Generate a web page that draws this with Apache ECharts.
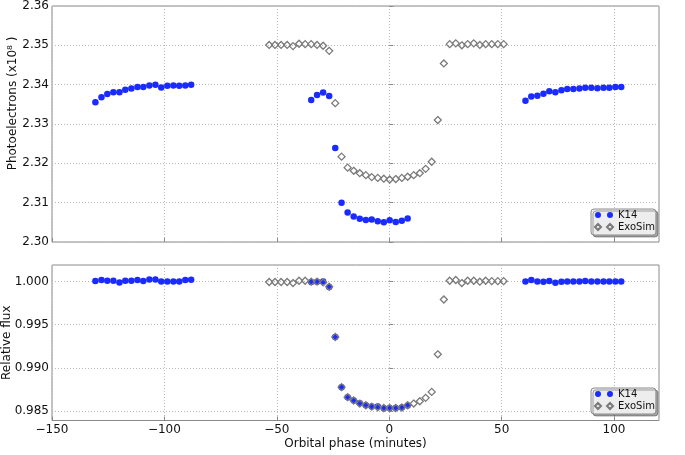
<!DOCTYPE html>
<html>
<head>
<meta charset="utf-8">
<script src="https://cdn.jsdelivr.net/npm/echarts@6.0.0/dist/echarts.min.js"></script>
<style>html,body{margin:0;padding:0;background:#fff;}#c{width:685px;height:455px;}</style>
</head>
<body>
<div id="c"></div>
<script>
// ---- data ----
const k14Phase = [-130.7, -128.0, -125.4, -122.7, -120.0, -117.4, -114.7, -112.0, -109.4, -106.7, -104.0, -101.4, -98.7, -96.0, -93.4, -90.7, -88.1,
  -34.7, -32.1, -29.4, -26.7, -24.0, -21.2, -18.5, -15.8, -13.1, -10.4, -7.8, -5.1, -2.4, 0.2, 2.9, 5.6, 8.2,
  60.6, 63.2, 65.9, 68.6, 71.2, 73.9, 76.6, 79.2, 81.9, 84.6, 87.2, 89.9, 92.6, 95.3, 97.9, 100.6, 103.2];
const k14Photo = [2.3355, 2.3368, 2.3376, 2.3381, 2.3381, 2.3387, 2.3390, 2.3394, 2.3394, 2.3398, 2.3400, 2.3393, 2.3397, 2.3398, 2.3397, 2.3398, 2.3400,
  2.3361, 2.3374, 2.3380, 2.3371, 2.3239, 2.3100, 2.3075, 2.3065, 2.3059, 2.3056, 2.3057, 2.3053, 2.3050, 2.3055, 2.3051, 2.3054, 2.3060,
  2.3359, 2.3370, 2.3372, 2.3377, 2.3383, 2.3381, 2.3386, 2.3389, 2.3389, 2.3390, 2.3392, 2.3392, 2.3391, 2.3392, 2.3392, 2.3394, 2.3394];
const k14Flux = [1.00005, 1.00016, 1.00008, 1.00008, 0.99988, 1.00008, 1.00008, 1.00016, 1.00005, 1.00023, 1.00023, 1.0, 1.0, 1.0, 1.0, 1.00016, 1.0002,
  0.99993, 0.99997, 1.0, 0.99935, 0.99357, 0.98776, 0.98660, 0.98621, 0.98590, 0.98567, 0.98551, 0.98551, 0.98531, 0.98535, 0.98535, 0.98540, 0.98563,
  1.0, 1.00016, 1.0, 0.99997, 1.00005, 0.99985, 0.99997, 1.0, 1.0, 1.0, 1.00005, 1.0, 1.0, 1.0, 1.0, 1.0, 1.0];

const exoPhase = [-53.4, -50.8, -48.1, -45.4, -42.8, -40.1, -37.4, -34.7, -32.1, -29.4, -26.7, -24.0, -21.2, -18.5, -15.8, -13.1, -10.4, -7.8, -5.1, -2.4,
  0.2, 2.9, 5.6, 8.2, 10.9, 13.6, 16.2, 18.9, 21.6, 24.3, 26.9, 29.6, 32.3, 34.9, 37.6, 40.3, 42.9, 45.6, 48.3, 50.9];
const exoPhoto = [2.3501, 2.3501, 2.3501, 2.3501, 2.3498, 2.3504, 2.3503, 2.3503, 2.3501, 2.3499, 2.3486, 2.3353, 2.3217, 2.3189, 2.3181, 2.3175, 2.3170, 2.3165, 2.3163, 2.3161,
  2.3159, 2.3160, 2.3163, 2.3166, 2.3170, 2.3175, 2.3186, 2.3204, 2.3310, 2.3454, 2.3503, 2.3505, 2.3500, 2.3503, 2.3505, 2.3501, 2.3503, 2.3503, 2.3503, 2.3503];
const exoFlux = [0.99993, 0.99993, 0.99993, 0.99993, 0.99981, 1.00008, 1.00008, 0.99997, 0.99997, 0.99988, 0.99938, 0.99357, 0.98776, 0.98660, 0.98621, 0.98586, 0.98567, 0.98551, 0.98543, 0.98535,
  0.98535, 0.98535, 0.98540, 0.98567, 0.98586, 0.98613, 0.98652, 0.98721, 0.99156, 0.99791, 1.00008, 1.00016, 0.99981, 1.00008, 1.00008, 0.99997, 1.00008, 1.00003, 1.00003, 1.00003];

const xTicks = [-150, -100, -50, 0, 50, 100];
const yTicksPhoto = [2.30, 2.31, 2.32, 2.33, 2.34, 2.35, 2.36];
const yTicksFlux = [0.985, 0.990, 0.995, 1.000];
const seriesNames = ['K14', 'ExoSim'];
const xTitle = 'Orbital phase (minutes)';
const yTitleTop = 'Photoelectrons (x10\u2078 )';
const yTitleBottom = 'Relative flux';

// ---- chart ----
const zip = (a, b) => a.map((v, i) => [v, b[i]]);
const FONT = 'DejaVu Sans';
const frame = '#8a8a8a';
const gridLine = { show: true, lineStyle: { type: [1, 2], color: '#b8b8b8', width: 1 } };
const blue = '#1a2bff';
const dotsIcon = 'path://M0,3a3,3 0 1,0 6,0a3,3 0 1,0 -6,0ZM12,3a3,3 0 1,0 6,0a3,3 0 1,0 -6,0Z';
const diaIcon = 'path://M3,0L6,3L3,6L0,3ZM15,0L18,3L15,6L12,3Z';
const fmtMinus = v => (v < 0 ? '\u2212' + Math.abs(v) : String(v));

function legendAt(top) {
  return {
    orient: 'vertical', left: 591, top: top,
    data: [{ name: seriesNames[0], icon: dotsIcon }, { name: seriesNames[1], icon: diaIcon }],
    itemWidth: 18, itemHeight: 6, itemGap: 2,
    padding: [1, 1, 3, 3],
    backgroundColor: '#ededed', borderColor: '#8c8c8c', borderWidth: 1, borderRadius: 3,
    shadowColor: 'rgba(0,0,0,0.35)', shadowOffsetX: 2, shadowOffsetY: 2, shadowBlur: 0,
    textStyle: { fontFamily: FONT, fontSize: 10, color: '#111' },
    selectedMode: false
  };
}

const yName = (text, gap, pad) => ({
  name: text, nameLocation: 'middle', nameRotate: 90, nameGap: gap, nameMoveOverlap: false,
  nameTextStyle: { fontFamily: FONT, fontSize: 12, color: '#111', padding: pad }
});

const chart = echarts.init(document.getElementById('c'), null, { renderer: 'canvas' });
chart.setOption({
  animation: false,
  backgroundColor: '#fff',
  grid: [
    { left: 52, top: 6, width: 607, height: 236, show: true, borderColor: frame, borderWidth: 1, backgroundColor: 'transparent', containLabel: false, outerBoundsMode: 'none' },
    { left: 52, top: 265, width: 607, height: 155.5, show: true, borderColor: frame, borderWidth: 1, backgroundColor: 'transparent', containLabel: false, outerBoundsMode: 'none' }
  ],
  legend: [legendAt(209), legendAt(388)],
  xAxis: [
    { type: 'value', gridIndex: 0, min: -150, max: 120,
      axisLine: { show: false },
      axisTick: { show: true, inside: true, length: 4, lineStyle: { color: frame }, customValues: xTicks },
      axisLabel: { show: false, customValues: xTicks },
      splitLine: gridLine },
    { type: 'value', gridIndex: 1, min: -150, max: 120,
      axisLine: { show: false },
      axisTick: { show: true, inside: true, length: 4, lineStyle: { color: frame }, customValues: xTicks },
      axisLabel: { show: true, customValues: xTicks, formatter: fmtMinus, margin: 3, fontFamily: FONT, fontSize: 12, color: '#111' },
      splitLine: gridLine,
      name: xTitle, nameLocation: 'middle', nameGap: 17, nameMoveOverlap: false,
      nameTextStyle: { fontFamily: FONT, fontSize: 12, color: '#111' } }
  ],
  yAxis: [
    Object.assign({ type: 'value', gridIndex: 0, min: 2.30, max: 2.36,
      axisLine: { show: false },
      axisTick: { show: true, inside: true, length: 4, lineStyle: { color: frame }, customValues: yTicksPhoto },
      axisLabel: { show: true, customValues: yTicksPhoto, formatter: v => v.toFixed(2), margin: 3, fontFamily: FONT, fontSize: 12, color: '#111' },
      splitLine: gridLine }, yName(yTitleTop, 33, [0, 0, 0, 41])),
    Object.assign({ type: 'value', gridIndex: 1, min: 0.9839, max: 1.0019,
      axisLine: { show: false },
      axisTick: { show: true, inside: true, length: 4, lineStyle: { color: frame }, customValues: yTicksFlux },
      axisLabel: { show: true, customValues: yTicksFlux, formatter: v => v.toFixed(3), margin: 3, fontFamily: FONT, fontSize: 12, color: '#111' },
      splitLine: gridLine }, yName(yTitleBottom, 39, 0))
  ],
  series: [
    { type: 'scatter', name: seriesNames[0], xAxisIndex: 0, yAxisIndex: 0, data: zip(k14Phase, k14Photo),
      symbol: 'circle', symbolSize: 6.5, itemStyle: { color: blue, opacity: 1 }, z: 2 },
    { type: 'scatter', name: seriesNames[1], xAxisIndex: 0, yAxisIndex: 0, data: zip(exoPhase, exoPhoto),
      symbol: 'diamond', symbolSize: 7, itemStyle: { color: 'rgba(255,255,255,0)', borderColor: '#7a7a7a', borderWidth: 1.3, opacity: 1 }, z: 3 },
    { type: 'scatter', name: seriesNames[0], xAxisIndex: 1, yAxisIndex: 1, data: zip(k14Phase, k14Flux),
      symbol: 'circle', symbolSize: 6.5, itemStyle: { color: blue, opacity: 1 }, z: 2 },
    { type: 'scatter', name: seriesNames[1], xAxisIndex: 1, yAxisIndex: 1, data: zip(exoPhase, exoFlux),
      symbol: 'diamond', symbolSize: 7, itemStyle: { color: 'rgba(255,255,255,0)', borderColor: '#7a7a7a', borderWidth: 1.3, opacity: 1 }, z: 3 }
  ]
});
</script>
</body>
</html>
